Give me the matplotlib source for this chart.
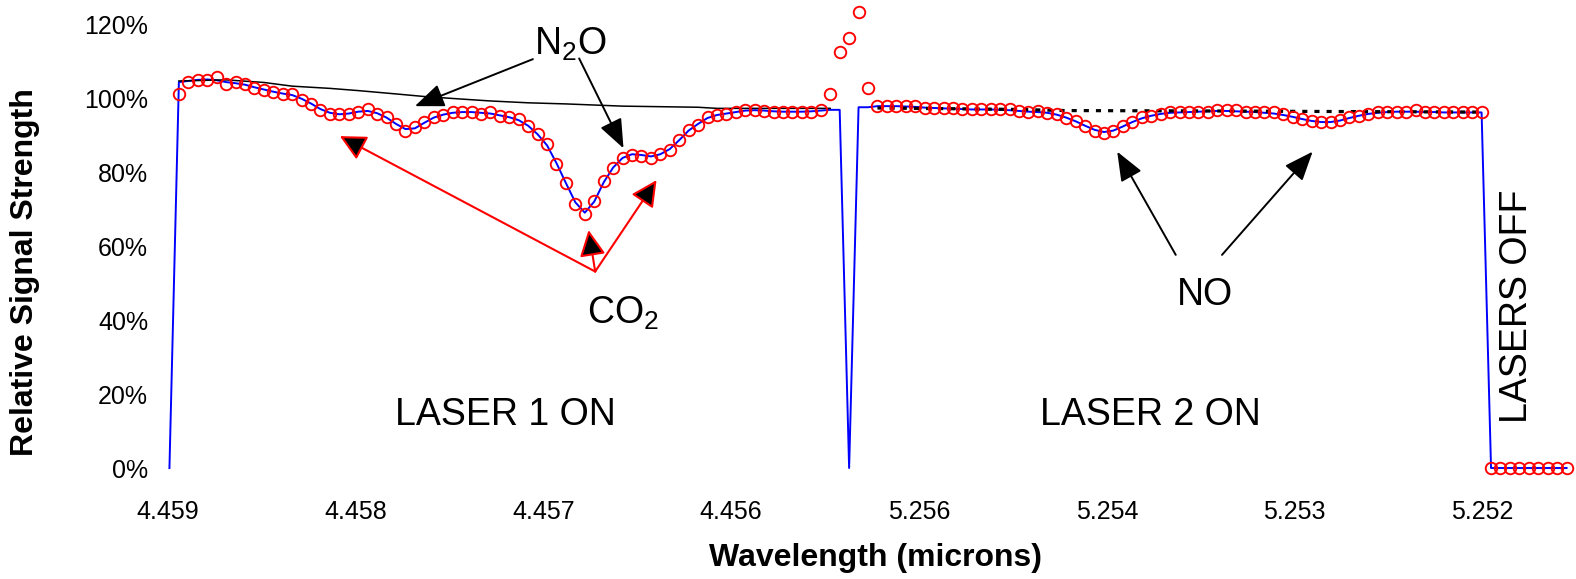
import numpy as np
import matplotlib.pyplot as plt
from matplotlib.patches import FancyArrowPatch

plt.rcParams['font.family'] = ['Liberation Sans', 'DejaVu Sans']
plt.rcParams['mathtext.fontset'] = 'custom'
plt.rcParams['mathtext.rm'] = 'Liberation Sans'

'''Wavelength labels, one every ~20 samples'''
tick_labels = ['4.459', '4.458', '4.457', '4.456', '5.256', '5.254', '5.253', '5.252']

'''Measured signal (red circles), samples 1..148, percent'''
measured = [
    101.0, 104.2, 104.9, 104.9, 105.6, 103.8, 104.2, 103.8, 102.6, 102.2,
    101.5, 101.1, 101.1, 99.5, 98.3, 96.8, 95.7, 95.7, 95.7, 96.3,
    96.9, 95.7, 94.8, 92.9, 91.2, 92.1, 93.6, 94.9, 95.4, 96.1,
    96.1, 96.1, 95.7, 96.3, 95.1, 94.9, 94.2, 92.4, 90.3, 87.6,
    82.2, 77.1, 71.4, 68.6, 72.2, 77.5, 81.0, 83.7, 84.6, 84.4,
    83.7, 84.9, 85.9, 88.6, 91.4, 92.7, 94.9, 95.4, 95.7, 96.1,
    96.8, 96.8, 96.6, 96.1, 96.1, 96.1, 96.1, 96.1, 96.8, 101.1,
    112.3, 116.1, 123.2, 102.6, 97.8, 97.8, 97.8, 97.8, 97.8, 97.2,
    97.2, 97.4, 97.4, 96.9, 96.9, 96.9, 96.9, 96.9, 96.9, 96.4,
    96.1, 96.4, 95.9, 95.6, 94.5, 93.9, 92.5, 91.2, 90.5, 91.2,
    92.3, 93.4, 94.8, 95.1, 95.6, 96.1, 96.1, 96.1, 96.1, 96.1,
    96.8, 96.8, 96.8, 96.1, 96.1, 96.1, 96.1, 95.6, 94.9, 94.3,
    93.8, 93.4, 93.4, 94.1, 94.8, 95.2, 95.7, 96.1, 96.1, 96.1,
    96.1, 96.8, 96.1, 96.1, 96.1, 96.1, 96.1, 96.1, 96.1, 0.0,
    0.0, 0.0, 0.0, 0.0, 0.0, 0.0, 0.0, 0.0,
]

'''Fitted signal (blue line), samples 0..148, percent'''
fitted = [
    0.0, 104.3, 104.6, 104.9, 105.0, 104.8, 104.3, 104.0, 103.6, 102.9,
    102.3, 101.7, 101.2, 100.8, 99.8, 98.5, 97.0, 96.0, 95.6, 95.8,
    96.3, 96.5, 95.9, 94.7, 93.0, 91.6, 91.8, 93.3, 94.7, 95.5,
    96.0, 96.2, 96.2, 96.0, 95.8, 95.3, 94.8, 94.0, 92.5, 90.2,
    87.2, 82.4, 77.0, 71.8, 69.0, 72.0, 77.2, 81.2, 83.8, 84.8,
    84.6, 84.2, 84.8, 86.2, 88.6, 91.2, 93.0, 94.6, 95.4, 95.8,
    96.2, 96.6, 96.7, 96.6, 96.4, 96.3, 96.3, 96.3, 96.4, 96.6,
    96.8, 96.8, 0.0, 97.5, 97.5, 97.8, 97.8, 97.8, 97.7, 97.6,
    97.4, 97.3, 97.2, 97.1, 97.0, 96.9, 96.9, 96.9, 96.8, 96.7,
    96.5, 96.3, 96.2, 96.0, 95.5, 94.7, 93.7, 92.5, 91.4, 90.8,
    91.2, 92.3, 93.5, 94.5, 95.2, 95.7, 96.0, 96.1, 96.2, 96.3,
    96.4, 96.5, 96.5, 96.4, 96.3, 96.2, 96.0, 95.8, 95.4, 94.9,
    94.3, 93.8, 93.5, 93.5, 93.9, 94.6, 95.2, 95.7, 96.0, 96.2,
    96.3, 96.3, 96.3, 96.2, 96.2, 96.1, 96.1, 96.1, 96.1, 96.1,
    0.0, 0.0, 0.0, 0.0, 0.0, 0.0, 0.0, 0.0, 0.0,
]

'''Baseline without N2O (solid black) and without NO (dotted black)'''
n2o_base_idx = [1, 6, 10, 13, 17, 20, 24, 27, 31, 34, 38, 42, 48, 56, 58, 70]
n2o_base_val = [104.6, 104.9, 104.2, 103.2, 102.6, 102.0, 101.1, 100.4, 99.7, 99.2,
                98.7, 98.4, 97.8, 97.5, 97.2, 97.2]
no_base_idx = [75, 83, 90, 95, 110, 118, 139]
no_base_val = [97.3, 97.1, 96.9, 96.6, 96.5, 96.4, 96.2]


def arrow(ax, start, tip, edge, face, hl, hw, lw):
    ax.add_patch(FancyArrowPatch(
        start, tip, arrowstyle=f'-|>,head_length={hl},head_width={hw}',
        mutation_scale=1, edgecolor=edge, facecolor=face, linewidth=lw,
        shrinkA=0, shrinkB=0, clip_on=False, zorder=6))


def main():
    fig = plt.figure(figsize=(15.76, 5.79), dpi=100)
    ax = fig.add_axes([160/1576, 111/579, 1416/1576, 451.4/579])

    ax.plot(np.arange(len(fitted)), fitted, color='#0000ff', lw=1.4, zorder=2, clip_on=False)
    ax.plot(n2o_base_idx, n2o_base_val, color='black', lw=1.1, zorder=3)
    ax.plot(no_base_idx, no_base_val, color='black', lw=2.3,
            linestyle=(0, (1.6, 2.2)), zorder=3)
    ax.plot(np.arange(1, len(measured) + 1), measured, linestyle='none',
            marker='o', ms=8.3, mfc='none', mec='#ff0000', mew=1.35,
            zorder=4, clip_on=False)

    ax.set_xlim(-1, 149)
    ax.set_ylim(0, 122)
    ax.set_xticks(np.linspace(-0.2, 139.1, 8))
    ax.set_xticklabels(tick_labels)
    ax.set_yticks(np.arange(0, 121, 20))
    ax.set_yticklabels([f'{v}%' for v in range(0, 121, 20)])
    for s in ax.spines.values():
        s.set_visible(False)
    ax.tick_params(axis='both', length=0, labelsize=18)
    ax.tick_params(axis='x', pad=23)
    ax.tick_params(axis='y', pad=8.5)
    for lab in ax.get_xticklabels() + ax.get_yticklabels():
        lab.set_fontstretch('condensed')

    ax.set_xlabel('Wavelength (microns)', fontsize=23, fontweight='bold')
    ax.xaxis.set_label_coords(0.505, -0.166)
    ax.set_ylabel('Relative Signal Strength', fontsize=23, fontweight='bold')
    ax.yaxis.set_label_coords(-0.0953, 0.434)
    ax.yaxis.label.set_va('center')

    # annotations
    ax.text(38.6, 111.6, r'N$_\mathrm{2}$O', fontsize=27, ha='left', va='baseline')
    arrow(ax, (38.5, 110.5), (26.0, 97.8), 'black', 'black', 18, 7.2, 1.4)
    arrow(ax, (43.4, 110.7), (48.1, 86.4), 'black', 'black', 18, 7.2, 1.4)

    ax.text(44.2, 39.1, r'CO$_\mathrm{2}$', fontsize=27, ha='left', va='baseline')
    origin = (45.1, 53.1)
    arrow(ax, origin, (18.05, 89.7), '#ff0000', 'black', 16, 8, 1.5)
    arrow(ax, origin, (44.4, 64.3), '#ff0000', 'black', 16, 8, 1.5)
    arrow(ax, origin, (51.6, 77.8), '#ff0000', 'black', 16, 8, 1.5)

    ax.text(106.7, 44.1, 'NO', fontsize=27, ha='left', va='baseline')
    arrow(ax, (106.6, 57.6), (100.4, 85.5), 'black', 'black', 18, 7.2, 1.4)
    arrow(ax, (111.5, 57.6), (121.1, 85.5), 'black', 'black', 18, 7.2, 1.4)

    ax.text(23.9, 11.6, 'LASER 1 ON', fontsize=27, ha='left', va='baseline')
    ax.text(92.2, 11.6, 'LASER 2 ON', fontsize=27, ha='left', va='baseline')
    ax.text(143.8, 12.2, 'LASERS OFF', fontsize=27, ha='left', va='baseline',
            rotation=90, rotation_mode='anchor')

    fig.savefig('out.png', dpi=100)


if __name__ == '__main__':
    main()
